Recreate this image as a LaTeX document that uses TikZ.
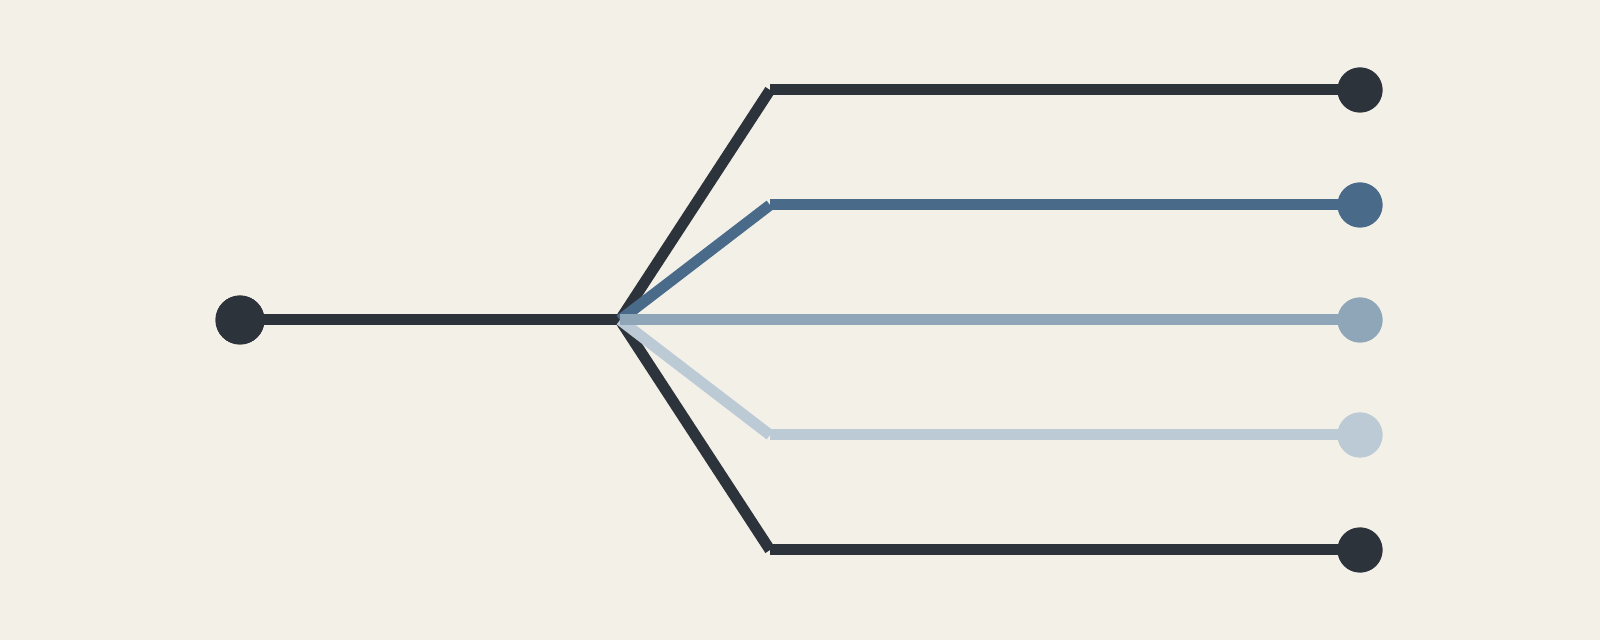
\documentclass[tikz,border=0pt]{standalone}
\definecolor{bg}{HTML}{F3F0E8}
\definecolor{cdark}{HTML}{2D333B}
\definecolor{cblue}{HTML}{4A6A8A}
\definecolor{cmid}{HTML}{8FA5B8}
\definecolor{clight}{HTML}{BCCAD6}
\begin{document}
\begin{tikzpicture}[x=0.5pt,y=-0.5pt,
  wire/.style={line width=5.5pt,line cap=butt},
  bigdot/.style={circle,inner sep=0pt,minimum size=24.5pt,fill=#1},
  enddot/.style={circle,inner sep=0pt,minimum size=22.5pt,fill=#1}]
\fill[bg] (0,0) rectangle (1600,640);
\coordinate (j) at (620,320);
\coordinate (c1) at (770,90);
\coordinate (c2) at (770,205);
\coordinate (c4) at (770,435);
\coordinate (c5) at (770,550);
\node[bigdot=cdark] (s) at (240,320) {};
\node[enddot=cdark] (e1) at (1360,90) {};
\node[enddot=cblue] (e2) at (1360,205) {};
\node[enddot=cmid] (e3) at (1360,320) {};
\node[enddot=clight] (e4) at (1360,435) {};
\node[enddot=cdark] (e5) at (1360,550) {};
\draw[wire,cdark] (s.center) -- (j);
\draw[wire,cdark] (j) -- (c1);
\draw[wire,cdark] (j) -- (c5);
\draw[wire,clight] (j) -- (c4);
\draw[wire,cblue] (j) -- (c2);
\draw[wire,cmid] (j) -- (e3.center);
\draw[wire,cdark] (c1) -- (e1.center);
\draw[wire,cblue] (c2) -- (e2.center);
\draw[wire,clight] (c4) -- (e4.center);
\draw[wire,cdark] (c5) -- (e5.center);
\node[bigdot=cdark] at (s) {};
\node[enddot=cdark] at (e1) {};
\node[enddot=cblue] at (e2) {};
\node[enddot=cmid] at (e3) {};
\node[enddot=clight] at (e4) {};
\node[enddot=cdark] at (e5) {};
\end{tikzpicture}
\end{document}
